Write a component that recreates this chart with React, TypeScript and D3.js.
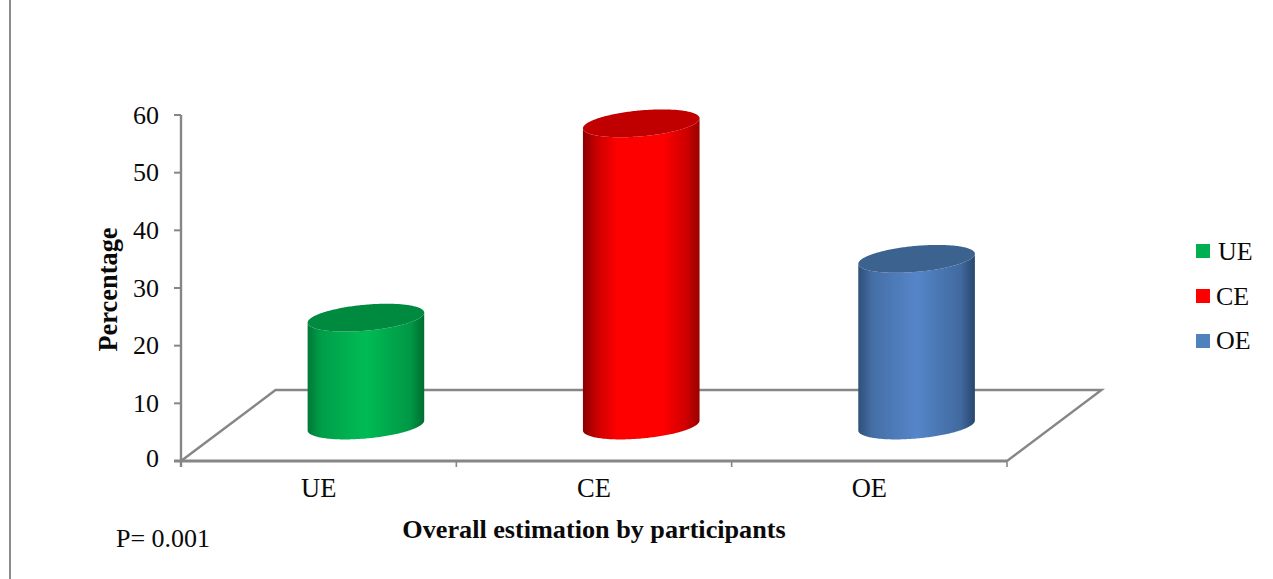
import React from "react";
import * as d3 from "d3";

// Overall estimation by participants, in percent
const categories = ["UE", "CE", "OE"];
const percentages = [18.7, 52.4, 28.9];
const yTicks = [0, 10, 20, 30, 40, 50, 60];

const WIDTH = 1273;
const HEIGHT = 579;
const SERIF = "'Liberation Serif', 'Times New Roman', serif";
const AXIS = "#868686";
const INK = "#0a0a0a";

const palette = [
  { edgeL: "#007a38", mid: "#00bb55", edgeR: "#006d32", top: "#008a3f", key: "#00b050", shoulder: 0.78 },
  { edgeL: "#8a0000", mid: "#ff0000", edgeR: "#990000", top: "#c00000", key: "#ff0000", shoulder: 1 },
  { edgeL: "#2f5079", mid: "#5586c9", edgeR: "#27466b", top: "#3c628f", key: "#4f81bd", shoulder: 0.78 },
];

const y = d3.scaleLinear().domain([0, 60]).range([461, 115]);
const x = d3.scaleBand<string>().domain(categories).range([181, 1007]);

// Floor depth of the 3D plot: the back edge sits up and to the right of the front edge
const depthX = 94.5;
const depthY = 71;

// Half-width and tilt of the cylinder's elliptical cross-section
const rx = 58.3;
const ryTilt = 5;
const ry = 13;

const ellipsePoint = (cx: number, cy: number, t: number): [number, number] => [
  cx + rx * Math.cos(t),
  cy - ryTilt * Math.cos(t) + ry * Math.sin(t),
];

const outline = d3.line<[number, number]>().curve(d3.curveLinear);

function Cylinder({ name, value, index }: { name: string; value: number; index: number }) {
  const cx = (x(name) as number) + x.bandwidth() / 2 + depthX / 2;
  const base = y(0) - depthY / 2;
  const topY = base - (y(0) - y(value));
  const angles = d3.range(0, 121).map((i) => (i / 120) * Math.PI);
  const lower = angles.map((t) => ellipsePoint(cx, base, t));
  const upperBack = angles.map((t) => ellipsePoint(cx, topY, -t));
  const upperFront = angles.map((t) => ellipsePoint(cx, topY, t));
  const body = [...lower, ...upperFront.slice().reverse()];
  const cap = [...upperFront, ...upperBack.slice().reverse()];
  return (
    <g>
      <path d={(outline(body) as string) + "Z"} fill={`url(#cyl-${index})`} />
      <path d={(outline(cap) as string) + "Z"} fill={palette[index].top} />
    </g>
  );
}

export default function App() {
  const x0 = x.range()[0];
  const x1 = x.range()[1];
  const y0 = y(0);
  const bandEdges = [...categories.map((c) => x(c) as number), x1];
  return (
    <svg
      width={WIDTH}
      height={HEIGHT}
      viewBox={`0 0 ${WIDTH} ${HEIGHT}`}
      style={{ position: "absolute", left: 0, top: 0, background: "#fff" }}
      fontFamily={SERIF}
      fill={INK}
    >
      <defs>
        {palette.map((p, i) => {
          const left = d3.interpolateRgb(p.edgeL, p.mid);
          const right = d3.interpolateRgb(p.edgeR, p.mid);
          return (
            <linearGradient key={i} id={`cyl-${i}`} x1="0" x2="1" y1="0" y2="0">
              <stop offset="0" stopColor={p.edgeL} />
              <stop offset="0.12" stopColor={left(0.55)} />
              <stop offset="0.3" stopColor={left(p.shoulder)} />
              <stop offset="0.5" stopColor={p.mid} />
              <stop offset="0.68" stopColor={right(p.shoulder)} />
              <stop offset="0.88" stopColor={right(0.55)} />
              <stop offset="1" stopColor={p.edgeR} />
            </linearGradient>
          );
        })}
      </defs>

      {/* Rule down the left side of the figure */}
      <line x1={10} x2={10} y1={0} y2={HEIGHT} stroke="#8c8c8c" strokeWidth={2} />

      {/* Floor of the 3D plot */}
      <path
        d={`M${x0},${y0}L${x0 + depthX},${y0 - depthY}L${x1 + depthX},${y0 - depthY}L${x1},${y0}`}
        fill="none"
        stroke={AXIS}
        strokeWidth={2.4}
      />

      {/* Value axis */}
      <line x1={x0} x2={x0} y1={y(60)} y2={y0 + 6} stroke={AXIS} strokeWidth={2.4} />
      {yTicks.map((t) => (
        <g key={t}>
          <line x1={x0 - 7} x2={x0} y1={y(t)} y2={y(t)} stroke={AXIS} strokeWidth={2} />
          <text x={159} y={y(t) + (t === 0 ? 6 : 8.5)} textAnchor="end" fontSize={26}>
            {t}
          </text>
        </g>
      ))}

      {/* Category axis */}
      <line x1={x0 - 7} x2={x1} y1={y0} y2={y0} stroke={AXIS} strokeWidth={3} />
      {bandEdges.map((e) => (
        <line key={e} x1={e} x2={e} y1={y0} y2={y0 + 6} stroke={AXIS} strokeWidth={1.6} />
      ))}
      {categories.map((c) => (
        <text
          key={c}
          x={(x(c) as number) + x.bandwidth() / 2}
          y={496.5}
          textAnchor="middle"
          fontSize={26.5}
        >
          {c}
        </text>
      ))}

      {categories.map((c, i) => (
        <Cylinder key={c} name={c} value={percentages[i]} index={i} />
      ))}

      {/* Axis titles */}
      <text
        transform="translate(117,289.5) rotate(-90)"
        textAnchor="middle"
        fontSize={26.4}
        fontWeight="bold"
      >
        Percentage
      </text>
      <text x={594} y={538} textAnchor="middle" fontSize={26.2} fontWeight="bold">
        Overall estimation by participants
      </text>
      <text x={116} y={547} fontSize={26}>
        P= 0.001
      </text>

      {/* Legend */}
      {categories.map((c, i) => (
        <g key={c}>
          <rect x={1196} y={244 + i * 45} width={14} height={14} fill={palette[i].key} />
          <text x={i === 0 ? 1218 : 1216} y={260 + i * 44.5} fontSize={26}>
            {c}
          </text>
        </g>
      ))}
    </svg>
  );
}
